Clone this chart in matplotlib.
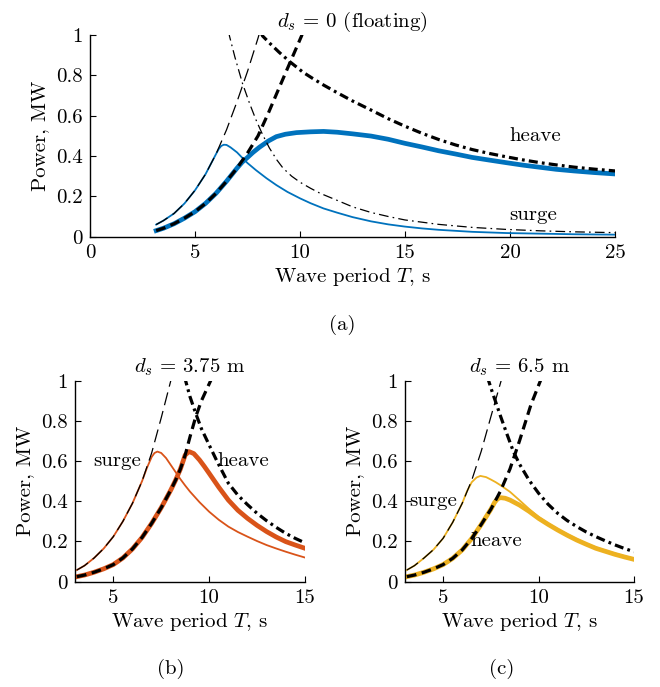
import matplotlib
matplotlib.use("Agg")
import matplotlib.pyplot as plt
from matplotlib.ticker import FormatStrFormatter

plt.rcParams["font.family"] = "serif"
plt.rcParams["font.serif"] = ["cmr10"]
plt.rcParams["mathtext.fontset"] = "cm"
plt.rcParams["axes.formatter.use_mathtext"] = True
plt.rcParams["lines.scale_dashes"] = False

BLUE = "#0072BD"
ORANGE = "#D95319"
YELLOW = "#EDB120"

# ---- (a) d_s = 0, floating ----
a_surge_bound_T = [3.15, 3.5, 4.0, 4.5, 5.0, 5.5, 6.0, 6.5, 7.0, 7.5, 8.0, 8.1]
a_surge_bound_P = [0.06, 0.08, 0.115, 0.165, 0.23, 0.31, 0.41, 0.53, 0.67, 0.82, 0.985, 1.02]
a_surge_T = [3.15, 3.5, 4.0, 4.5, 5.0, 5.5, 6.0, 6.13, 6.25, 6.37, 6.5, 6.69, 7.0, 7.26,
             7.5, 7.9, 8.4, 8.87, 9.4, 10.0, 10.5, 11.12, 11.77, 12.5, 13.38, 14.2, 14.99,
             15.8, 16.6, 18.2, 19.82, 21.43, 23.04, 25.0]
a_surge_P = [0.06, 0.08, 0.115, 0.165, 0.23, 0.31, 0.41, 0.435, 0.45, 0.456, 0.455, 0.443,
             0.418, 0.39, 0.365, 0.33, 0.29, 0.256, 0.222, 0.19, 0.166, 0.14, 0.119, 0.097,
             0.076, 0.061, 0.05, 0.041, 0.034, 0.024, 0.018, 0.015, 0.012, 0.01]
a_surge_up_T = [6.6, 6.64, 6.9, 7.26, 7.6, 7.9, 8.2, 8.54, 8.9, 9.19, 9.6, 10.0, 10.5,
                10.96, 11.77, 12.5, 13.38, 14.2, 14.99, 16.6, 18.2, 19.82, 21.43, 23.04, 25.0]
a_surge_up_P = [1.02, 0.995, 0.89, 0.76, 0.66, 0.58, 0.51, 0.44, 0.38, 0.34, 0.3, 0.27,
                0.24, 0.215, 0.18, 0.148, 0.12, 0.1, 0.083, 0.061, 0.046, 0.036, 0.029,
                0.024, 0.02]
a_heave_bound_T = [3.15, 3.5, 4.0, 4.5, 5.0, 5.5, 6.0, 6.5, 7.0, 7.5, 8.0, 8.5, 9.0, 9.5,
                   10.07, 10.12]
a_heave_bound_P = [0.03, 0.042, 0.064, 0.092, 0.124, 0.165, 0.215, 0.275, 0.34, 0.415, 0.5,
                   0.615, 0.737, 0.858, 0.995, 1.01]
a_heave_T = [3.15, 3.5, 4.0, 4.5, 5.0, 5.5, 6.0, 6.5, 7.0, 7.25, 7.5, 7.75, 8.06, 8.5,
             8.87, 9.3, 9.83, 10.5, 11.12, 11.77, 12.5, 13.38, 14.2, 14.99, 15.8, 16.6,
             17.4, 18.2, 19.0, 19.82, 20.6, 21.43, 22.2, 23.04, 24.0, 25.0]
a_heave_P = [0.03, 0.042, 0.064, 0.092, 0.124, 0.165, 0.215, 0.275, 0.34, 0.37, 0.393,
             0.417, 0.443, 0.475, 0.496, 0.508, 0.516, 0.52, 0.522, 0.518, 0.51, 0.499,
             0.483, 0.463, 0.445, 0.426, 0.41, 0.393, 0.38, 0.367, 0.355, 0.344, 0.334,
             0.326, 0.318, 0.311]
a_heave_up_T = [8.15, 8.22, 8.6, 9.0, 9.51, 10.15, 10.6, 11.12, 11.77, 12.5, 13.38, 14.2,
                14.99, 15.8, 16.6, 17.4, 18.2, 19.0, 19.82, 20.6, 21.43, 22.2, 23.04, 24.0,
                25.0]
a_heave_up_P = [1.01, 0.995, 0.955, 0.915, 0.868, 0.815, 0.785, 0.752, 0.714, 0.673, 0.628,
                0.585, 0.548, 0.513, 0.482, 0.455, 0.432, 0.413, 0.396, 0.381, 0.367, 0.356,
                0.345, 0.335, 0.326]

# ---- (b) d_s = 3.75 m ----
b_surge_bound_T = [3.1, 3.5, 4.0, 4.5, 5.0, 5.5, 6.0, 6.5, 7.0, 7.5, 8.0, 8.05]
b_surge_bound_P = [0.058, 0.08, 0.118, 0.165, 0.224, 0.3, 0.39, 0.5, 0.64, 0.815, 1.0, 1.02]
b_surge_T = [3.1, 3.5, 4.0, 4.5, 5.0, 5.5, 6.0, 6.5, 6.75, 7.0, 7.15, 7.3, 7.5, 7.75, 8.0,
             8.25, 8.5, 8.75, 9.0, 9.5, 10.0, 10.5, 11.0, 11.5, 12.0, 12.5, 13.0, 13.5,
             14.0, 14.5, 15.0]
b_surge_P = [0.058, 0.08, 0.118, 0.165, 0.224, 0.3, 0.39, 0.5, 0.565, 0.62, 0.64, 0.647,
             0.64, 0.615, 0.58, 0.545, 0.51, 0.478, 0.448, 0.395, 0.348, 0.308, 0.274,
             0.247, 0.224, 0.202, 0.182, 0.165, 0.149, 0.134, 0.12]
b_heave_bound_T = [3.1, 3.5, 4.0, 4.5, 5.0, 5.5, 6.0, 6.5, 7.0, 7.5, 8.0, 8.25, 8.5, 8.75,
                   9.0, 9.3, 9.6, 10.08, 10.13]
b_heave_bound_P = [0.025, 0.033, 0.047, 0.064, 0.085, 0.118, 0.163, 0.22, 0.29, 0.368,
                   0.456, 0.505, 0.56, 0.63, 0.72, 0.82, 0.9, 1.0, 1.01]
b_heave_T = [3.1, 3.5, 4.0, 4.5, 5.0, 5.5, 6.0, 6.5, 7.0, 7.5, 8.0, 8.25, 8.5, 8.75, 8.95,
             9.2, 9.5, 9.75, 10.0, 10.5, 11.0, 11.5, 12.0, 12.5, 13.0, 13.5, 14.0, 14.5,
             15.0]
b_heave_P = [0.025, 0.033, 0.047, 0.064, 0.085, 0.118, 0.163, 0.22, 0.29, 0.368, 0.456,
             0.505, 0.56, 0.63, 0.647, 0.637, 0.605, 0.573, 0.539, 0.47, 0.406, 0.355,
             0.315, 0.28, 0.249, 0.222, 0.199, 0.182, 0.166]
b_heave_up_T = [8.72, 8.77, 9.0, 9.3, 9.6, 10.0, 10.43, 11.0, 11.5, 12.0, 12.5, 13.0, 13.5,
                14.0, 14.5, 15.0]
b_heave_up_P = [1.02, 1.0, 0.92, 0.837, 0.76, 0.68, 0.595, 0.49, 0.43, 0.383, 0.34, 0.303,
                0.27, 0.24, 0.215, 0.193]

# ---- (c) d_s = 6.5 m ----
c_surge_bound_T = [3.1, 3.5, 4.0, 4.5, 5.0, 5.5, 6.0, 6.5, 7.0, 7.5, 8.04, 8.1]
c_surge_bound_P = [0.058, 0.08, 0.118, 0.16, 0.216, 0.295, 0.39, 0.505, 0.65, 0.82, 1.0, 1.02]
c_surge_T = [3.1, 3.5, 4.0, 4.5, 5.0, 5.5, 6.0, 6.25, 6.5, 6.75, 6.95, 7.25, 7.5, 7.75,
             8.0, 8.5, 9.0, 9.5, 10.0, 10.5, 11.0, 11.5, 12.0, 12.5, 13.0, 13.5, 14.0,
             14.5, 15.0]
c_surge_P = [0.058, 0.08, 0.118, 0.16, 0.216, 0.295, 0.39, 0.45, 0.495, 0.518, 0.526, 0.52,
             0.508, 0.495, 0.48, 0.447, 0.405, 0.362, 0.322, 0.29, 0.262, 0.236, 0.212,
             0.19, 0.171, 0.155, 0.141, 0.127, 0.115]
c_heave_bound_T = [3.1, 3.5, 4.0, 4.5, 5.0, 5.5, 6.0, 6.5, 7.0, 7.5, 8.0, 8.5, 8.75, 9.0,
                   9.3, 9.6, 10.1, 10.15]
c_heave_bound_P = [0.025, 0.033, 0.047, 0.064, 0.085, 0.116, 0.158, 0.215, 0.285, 0.36,
                   0.45, 0.56, 0.63, 0.7, 0.79, 0.88, 1.0, 1.01]
c_heave_T = [3.1, 3.5, 4.0, 4.5, 5.0, 5.5, 6.0, 6.5, 7.0, 7.5, 7.7, 7.85, 8.0, 8.25, 8.5,
             9.0, 9.5, 10.0, 10.5, 11.0, 11.5, 12.0, 12.5, 13.0, 13.5, 14.0, 14.5, 15.0]
c_heave_P = [0.025, 0.033, 0.047, 0.064, 0.085, 0.116, 0.158, 0.215, 0.285, 0.36, 0.395,
             0.412, 0.418, 0.415, 0.406, 0.381, 0.35, 0.315, 0.285, 0.257, 0.231, 0.207,
             0.186, 0.166, 0.151, 0.136, 0.123, 0.111]
c_heave_up_T = [7.33, 7.38, 7.55, 7.73, 8.0, 8.3, 8.69, 9.0, 9.5, 10.0, 10.5, 11.0, 11.5,
                12.0, 12.5, 13.0, 13.5, 14.0, 14.5, 15.0]
c_heave_up_P = [1.02, 1.0, 0.95, 0.9, 0.825, 0.745, 0.645, 0.585, 0.505, 0.44, 0.385, 0.34,
                0.304, 0.274, 0.247, 0.224, 0.203, 0.183, 0.165, 0.149]

FS = 15

thin_dash = dict(color="k", lw=0.9, dashes=(9.5, 4.3))
thick_dash = dict(color="k", lw=2.3, dashes=(7, 4))
thin_dashdot = dict(color="k", lw=0.9, dashes=(7, 3, 1.2, 3))
thick_dashdot = dict(color="k", lw=2.3, dashes=(6.5, 3, 2, 3))


def style_axes(ax, xlim, xticks):
    ax.set_xlim(*xlim)
    ax.set_ylim(0, 1)
    ax.set_xticks(xticks)
    ax.set_yticks([0, 0.2, 0.4, 0.6, 0.8, 1])
    ax.xaxis.set_major_formatter(FormatStrFormatter("%g"))
    ax.yaxis.set_major_formatter(FormatStrFormatter("%g"))
    ax.spines["top"].set_visible(False)
    ax.spines["right"].set_visible(False)
    for s in ("left", "bottom"):
        ax.spines[s].set_linewidth(1.0)
    ax.tick_params(direction="in", length=4, width=0.8, labelsize=FS, pad=5)
    ax.set_xlabel("Wave period $T$, s", fontsize=FS, labelpad=3)
    ax.set_ylabel("Power, MW", fontsize=FS, labelpad=5)


fig = plt.figure(figsize=(6.6, 6.87), dpi=100)

# (a)
ax = fig.add_axes([0.1364, 0.6555, 0.7955, 0.2935])
ax.plot(a_surge_T, a_surge_P, color=BLUE, lw=1.3)
ax.plot(a_heave_T, a_heave_P, color=BLUE, lw=3.4)
ax.plot(a_surge_bound_T, a_surge_bound_P, **thin_dash)
ax.plot(a_surge_up_T, a_surge_up_P, **thin_dashdot)
ax.plot(a_heave_bound_T, a_heave_bound_P, **thick_dash)
ax.plot(a_heave_up_T, a_heave_up_P, **thick_dashdot)
ax.text(21.2, 0.5, "heave", fontsize=FS, ha="center", va="center")
ax.text(21.1, 0.105, "surge", fontsize=FS, ha="center", va="center")
style_axes(ax, (0, 25), [0, 5, 10, 15, 20, 25])
ax.set_title(r"$d_s\,=\,0$ (floating)", fontsize=FS, pad=6)

# (b)
ax = fig.add_axes([0.1136, 0.1533, 0.3485, 0.2927])
ax.plot(b_surge_T, b_surge_P, color=ORANGE, lw=1.3)
ax.plot(b_heave_T, b_heave_P, color=ORANGE, lw=3.4)
ax.plot(b_surge_bound_T, b_surge_bound_P, **thin_dash)
ax.plot(b_heave_bound_T, b_heave_bound_P, **thick_dash)
ax.plot(b_heave_up_T, b_heave_up_P, **thick_dashdot)
ax.text(5.2, 0.6, "surge", fontsize=FS, ha="center", va="center")
ax.text(11.8, 0.6, "heave", fontsize=FS, ha="center", va="center")
style_axes(ax, (3, 15), [5, 10, 15])
ax.set_title(r"$d_s\,=\,3.75$ m", fontsize=FS, pad=6)

# (c)
ax = fig.add_axes([0.6136, 0.1533, 0.3470, 0.2927])
ax.plot(c_surge_T, c_surge_P, color=YELLOW, lw=1.3)
ax.plot(c_heave_T, c_heave_P, color=YELLOW, lw=3.4)
ax.plot(c_surge_bound_T, c_surge_bound_P, **thin_dash)
ax.plot(c_heave_bound_T, c_heave_bound_P, **thick_dash)
ax.plot(c_heave_up_T, c_heave_up_P, **thick_dashdot)
ax.text(4.5, 0.4, "surge", fontsize=FS, ha="center", va="center")
ax.text(7.8, 0.2, "heave", fontsize=FS, ha="center", va="center")
style_axes(ax, (3, 15), [5, 10, 15])
ax.set_title(r"$d_s\,=\,6.5$ m", fontsize=FS, pad=6)

fig.text(0.518, 1 - 325 / 687, "(a)", fontsize=FS, ha="center", va="center")
fig.text(0.258, 1 - 669 / 687, "(b)", fontsize=FS, ha="center", va="center")
fig.text(0.760, 1 - 669 / 687, "(c)", fontsize=FS, ha="center", va="center")

fig.savefig("out.png", dpi=100)
